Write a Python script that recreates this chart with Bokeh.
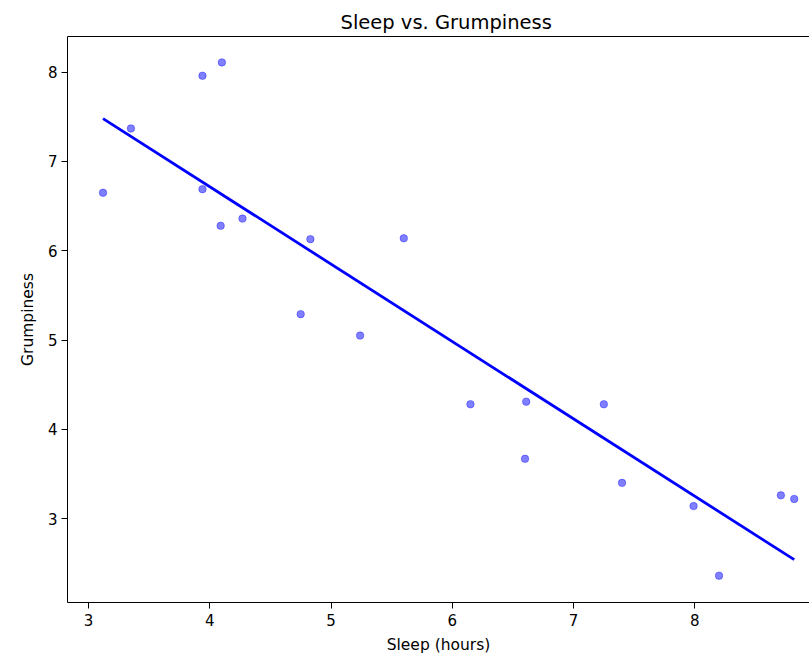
from bokeh.plotting import figure
from bokeh.models import Range1d, LinearAxis, FixedTicker, ColumnDataSource
from bokeh.embed import file_html
from bokeh.resources import INLINE

# Data
sleep_hours = [3.12, 3.35, 3.94, 4.10, 3.94, 4.09, 4.27, 4.75, 4.83, 5.24,
               5.60, 6.15, 6.61, 6.60, 7.25, 7.40, 7.99, 8.20, 8.71, 8.82]
grumpiness = [6.65, 7.37, 7.96, 8.11, 6.69, 6.28, 6.36, 5.29, 6.13, 5.05,
              6.14, 4.28, 4.31, 3.67, 4.28, 3.40, 3.14, 2.36, 3.26, 3.22]
fit_x = [3.12, 8.82]
fit_y = [7.48, 2.54]
x_ticks = [3, 4, 5, 6, 7, 8]
y_ticks = [3, 4, 5, 6, 7, 8]

FONT = "DejaVu Sans"

p = figure(width=809, height=656, output_backend="svg", toolbar_location=None,
           x_range=Range1d(2.827, 8.946), y_range=Range1d(2.06, 8.40),
           title="Sleep vs. Grumpiness",
           min_border_left=67, min_border_right=0, min_border_top=36,
           min_border_bottom=53)

p.outline_line_color = None
p.xgrid.visible = False
p.ygrid.visible = False
p.background_fill_color = "white"
p.border_fill_color = "white"

p.title.text_font = FONT
p.title.text_font_size = "19.5px"
p.title.text_font_style = "normal"
p.title.text_color = "#000000"
p.title.align = "left"
p.title.offset = 273
p.title.standoff = 6

src = ColumnDataSource(dict(x=sleep_hours, y=grumpiness))
p.scatter("x", "y", source=src, size=7.5, fill_color="blue", fill_alpha=0.5,
          line_color="blue", line_alpha=0.45, line_width=0.8)
p.line(fit_x, fit_y, line_color="blue", line_width=2.8)

for ax in (p.xaxis[0], p.yaxis[0]):
    ax.axis_line_color = "black"
    ax.axis_line_width = 1
    ax.major_tick_out = 6
    ax.major_tick_in = 0
    ax.minor_tick_out = 0
    ax.minor_tick_in = 0
    ax.major_tick_line_color = "black"
    ax.major_label_text_font = FONT
    ax.major_label_text_font_size = "15px"
    ax.major_label_text_color = "#000000"
    ax.axis_label_text_font = FONT
    ax.axis_label_text_font_size = "15.5px"
    ax.axis_label_text_font_style = "normal"
    ax.axis_label_text_color = "#000000"
    ax.major_label_standoff = 4

p.xaxis[0].major_label_standoff = 5
p.xaxis[0].ticker = FixedTicker(ticks=x_ticks)
p.yaxis[0].ticker = FixedTicker(ticks=y_ticks)
p.xaxis[0].axis_label = "Sleep (hours)"
p.yaxis[0].axis_label = "Grumpiness"
p.xaxis[0].axis_label_standoff = 7
p.yaxis[0].axis_label_standoff = 8

top = LinearAxis(ticker=FixedTicker(ticks=[]), axis_line_color="black",
                 major_label_text_font_size="0px", major_tick_out=0,
                 minor_tick_out=0)
p.add_layout(top, "above")

open("out.html", "w").write(file_html(p, INLINE))
